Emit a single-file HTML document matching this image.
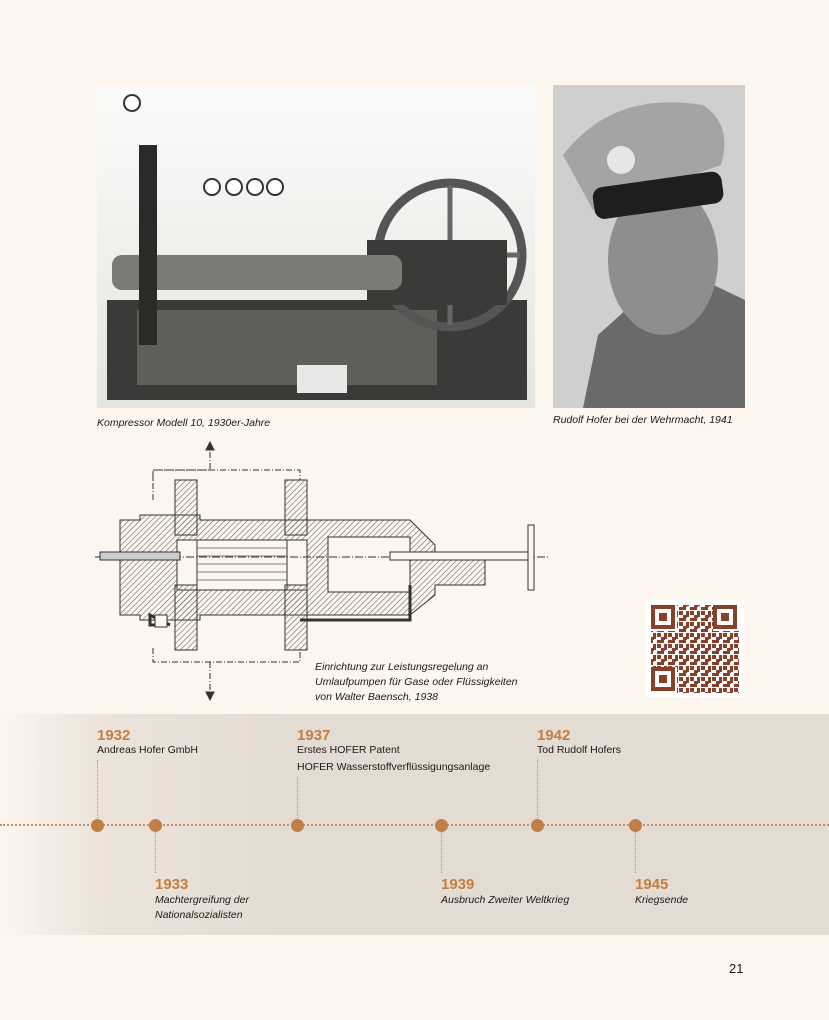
<!DOCTYPE html>
<html><head><meta charset="utf-8"><style>
body{margin:0;width:829px;height:1020px;background:#fdf6ee;position:relative;overflow:hidden;font-family:"Liberation Sans",sans-serif;color:#1a1a1a}
.a{position:absolute}
.cap{font-size:10.5px;font-style:italic}
.yr{font-weight:bold;color:#c27f45;font-size:15px}
.tx{font-size:10.5px}
.it{font-size:10.5px;font-style:italic;line-height:15px}
.vl{position:absolute;width:0;border-left:1px dotted #c98f5c}
.dot{position:absolute;width:13px;height:13px;border-radius:50%;background:#c27f45;top:819px}
</style></head><body>
<!-- compressor photo -->
<svg class="a" style="left:97px;top:85px" width="438" height="323">
<defs><linearGradient id="g1" x1="0" x2="0" y1="0" y2="1"><stop offset="0" stop-color="#fbfbfa"/><stop offset="1" stop-color="#e4e4e0"/></linearGradient></defs>
<rect width="438" height="323" fill="url(#g1)"/>
<rect x="10" y="215" width="420" height="100" fill="#3a3a38"/>
<rect x="40" y="225" width="300" height="75" fill="#5e5e5a"/>
<rect x="200" y="280" width="50" height="28" fill="#e8e8e6"/>
<circle cx="353" cy="170" r="72" fill="none" stroke="#555" stroke-width="9"/>
<circle cx="353" cy="170" r="10" fill="#333"/>
<line x1="353" y1="100" x2="353" y2="240" stroke="#666" stroke-width="5"/>
<line x1="283" y1="170" x2="423" y2="170" stroke="#666" stroke-width="5"/>
<rect x="270" y="155" width="140" height="65" fill="#3a3a38"/>
<rect x="15" y="170" width="290" height="35" rx="10" fill="#7a7a76"/>
<rect x="42" y="60" width="18" height="200" fill="#2a2a28"/>
<circle cx="35" cy="18" r="8" fill="#fff" stroke="#333" stroke-width="2"/>
<g fill="#fff" stroke="#333" stroke-width="2"><circle cx="115" cy="102" r="8"/><circle cx="137" cy="102" r="8"/><circle cx="158" cy="102" r="8"/><circle cx="178" cy="102" r="8"/></g>
</svg>
<div class="a cap" style="left:97px;top:417px">Kompressor Modell 10, 1930er-Jahre</div>
<!-- portrait -->
<svg class="a" style="left:553px;top:85px" width="192" height="323">
<rect width="192" height="323" fill="#cfcfcd"/>
<path d="M30 323 L45 250 L95 205 L150 195 L192 215 L192 323Z" fill="#6a6a68"/>
<ellipse cx="110" cy="175" rx="55" ry="75" fill="#8e8e8c"/>
<path d="M10 70 Q60 5 150 20 Q180 40 168 80 L40 125Z" fill="#a4a4a2"/>
<rect x="40" y="95" width="130" height="32" rx="10" fill="#1e1e1e" transform="rotate(-8 100 110)"/>
<circle cx="68" cy="75" r="14" fill="#e6e6e4"/>
</svg>
<div class="a cap" style="left:553px;top:414px">Rudolf Hofer bei der Wehrmacht, 1941</div>
<!-- diagram -->
<svg class="a" style="left:90px;top:440px" width="470" height="270" stroke="#333" fill="none">
<defs><pattern id="h" width="4" height="4" patternUnits="userSpaceOnUse" patternTransform="rotate(45)"><line x1="0" y1="0" x2="0" y2="4" stroke="#666" stroke-width="1.2"/></pattern></defs>
<path d="M63 60V30H120V5M120 30H118M120 30H118" stroke-dasharray="6 2 1 2"/>
<path d="M63 40V30H210V40" stroke-dasharray="6 2 1 2"/>
<path d="M63 208V222H210V208M120 222V255" stroke-dasharray="6 2 1 2"/>
<path d="M116 10L120 2L124 10Z M116 252L120 260L124 252Z" fill="#333"/>
<path d="M30 80H50V75H110V80H320L345 105V120H395V145H345V155L320 175H110V180H50V175H30Z" fill="url(#h)"/>
<rect x="87" y="100" width="20" height="50" fill="#fdf6ee"/><rect x="107" y="100" width="90" height="50" fill="#fdf6ee"/>
<g stroke="#555" stroke-width="0.7"><line x1="107" y1="108" x2="197" y2="108"/><line x1="107" y1="116" x2="197" y2="116"/><line x1="107" y1="124" x2="197" y2="124"/><line x1="107" y1="132" x2="197" y2="132"/><line x1="107" y1="140" x2="197" y2="140"/></g>
<rect x="197" y="100" width="20" height="50" fill="#fdf6ee"/>
<rect x="238" y="97" width="82" height="55" fill="#fdf6ee"/>
<rect x="85" y="40" width="22" height="55" fill="url(#h)"/><rect x="195" y="40" width="22" height="55" fill="url(#h)"/>
<rect x="85" y="145" width="22" height="65" fill="url(#h)"/><rect x="195" y="145" width="22" height="65" fill="url(#h)"/>
<line x1="5" y1="117" x2="460" y2="117" stroke-dasharray="8 2 1 2"/>
<rect x="10" y="112" width="80" height="8" fill="#ccc"/>
<rect x="300" y="112" width="140" height="8" fill="#fdf6ee"/>
<rect x="438" y="85" width="6" height="65" fill="#fdf6ee"/>
<path d="M210 180H320V145M80 185L60 175V185H70" stroke-width="3"/>
<rect x="65" y="175" width="12" height="12" fill="#fdf6ee"/>
</svg>
<div class="a it" style="left:315px;top:660px">Einrichtung zur Leistungsregelung an<br>Umlaufpumpen für Gase oder Flüssigkeiten<br>von Walter Baensch, 1938</div>
<!-- QR -->
<svg class="a" style="left:646px;top:600px" width="98" height="97">
<defs><pattern id="q" width="11" height="11" patternUnits="userSpaceOnUse"><rect width="4" height="4" fill="#87412a"/><rect x="4" y="4" width="4" height="3" fill="#87412a"/><rect x="7" y="0" width="3" height="6" fill="#87412a"/><rect x="0" y="7" width="7" height="3" fill="#87412a"/></pattern></defs>
<rect width="98" height="97" fill="#fff"/>
<rect x="5" y="5" width="88" height="88" fill="url(#q)"/>
<g fill="#fff"><rect x="5" y="5" width="26" height="26"/><rect x="67" y="5" width="26" height="26"/><rect x="5" y="67" width="26" height="26"/></g>
<g fill="none" stroke="#87412a" stroke-width="4"><rect x="7" y="7" width="20" height="20"/><rect x="69" y="7" width="20" height="20"/><rect x="7" y="69" width="20" height="20"/></g>
<g fill="#87412a"><rect x="13" y="13" width="8" height="8"/><rect x="75" y="13" width="8" height="8"/><rect x="13" y="75" width="8" height="8"/></g>
</svg>
<!-- timeline band -->
<div class="a" style="left:0;top:714px;width:829px;height:221px;background:linear-gradient(90deg,#fdf6ee 0%,#ece3db 12%,#e4dbd3 35%,#e4dbd3 100%)"></div>
<div class="a" style="left:0;top:824px;width:829px;border-top:2px dotted #c98f5c"></div>
<div class="vl" style="left:97px;top:760px;height:60px"></div>
<div class="vl" style="left:297px;top:777px;height:43px"></div>
<div class="vl" style="left:537px;top:760px;height:60px"></div>
<div class="vl" style="left:155px;top:830px;height:43px"></div>
<div class="vl" style="left:441px;top:830px;height:43px"></div>
<div class="vl" style="left:635px;top:830px;height:43px"></div>
<div class="dot" style="left:91px"></div><div class="dot" style="left:149px"></div><div class="dot" style="left:291px"></div>
<div class="dot" style="left:435px"></div><div class="dot" style="left:531px"></div><div class="dot" style="left:629px"></div>
<div class="a" style="left:97px;top:727px"><div class="yr">1932</div><div class="tx">Andreas Hofer GmbH</div></div>
<div class="a" style="left:297px;top:727px"><div class="yr">1937</div><div class="tx">Erstes HOFER Patent</div><div class="tx" style="margin-top:5px">HOFER Wasserstoffverflüssigungsanlage</div></div>
<div class="a" style="left:537px;top:727px"><div class="yr">1942</div><div class="tx">Tod Rudolf Hofers</div></div>
<div class="a" style="left:155px;top:876px"><div class="yr">1933</div><div class="it">Machtergreifung der<br>Nationalsozialisten</div></div>
<div class="a" style="left:441px;top:876px"><div class="yr">1939</div><div class="it">Ausbruch Zweiter Weltkrieg</div></div>
<div class="a" style="left:635px;top:876px"><div class="yr">1945</div><div class="it">Kriegsende</div></div>
<div class="a" style="left:729px;top:961px;font-size:13px">21</div>
</body></html>
